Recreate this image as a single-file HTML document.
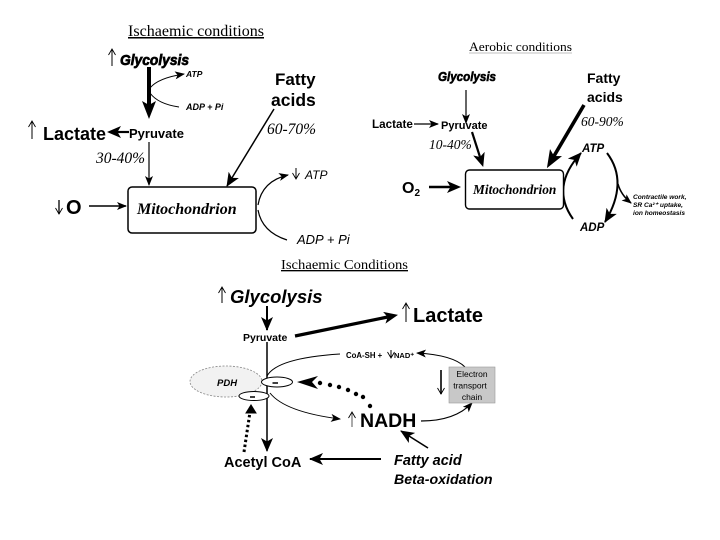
<!DOCTYPE html>
<html><head><meta charset="utf-8"><style>
html,body{margin:0;padding:0;background:#fff}
svg{display:block;filter:blur(.35px)}
text{fill:#000}
.s{font-family:"Liberation Sans",sans-serif}
.r{font-family:"Liberation Serif",serif}
.b{font-weight:bold}.i{font-style:italic}
</style></head><body>
<svg width="720" height="540" viewBox="0 0 720 540" xmlns="http://www.w3.org/2000/svg">
<defs>
<marker id="a" markerUnits="userSpaceOnUse" markerWidth="10" markerHeight="8" refX="9" refY="4" orient="auto"><path d="M0 0L10 4L0 8L2.5 4Z" fill="#000"/></marker>
<marker id="t" markerUnits="userSpaceOnUse" markerWidth="8" markerHeight="8" refX="7" refY="4" orient="auto"><path d="M1 .5L7 4L1 7.5" fill="none" stroke="#000" stroke-width=".9"/></marker>
<marker id="m" markerUnits="userSpaceOnUse" markerWidth="14" markerHeight="12" refX="13" refY="6" orient="auto"><path d="M0 0L14 6L0 12L3.5 6Z" fill="#000"/></marker>
<marker id="mN" markerUnits="userSpaceOnUse" markerWidth="14" markerHeight="12" refX="3.5" refY="6" orient="auto"><path d="M0 0L14 6L0 12L3.5 6Z" fill="#000"/></marker>
<marker id="lN" markerUnits="userSpaceOnUse" markerWidth="18" markerHeight="14" refX="4" refY="7" orient="auto"><path d="M0 0L18 7L0 14L4 7Z" fill="#000"/></marker>
</defs>
<g fill="none" stroke="#000">
<!-- panel 1 -->
<path d="M149 67V105" stroke-width="4" marker-end="url(#lN)"/>
<path d="M150 88Q158 78 184 74" stroke-width="1" marker-end="url(#a)"/>
<path d="M150 93Q158 104 179 107" stroke-width="1"/>
<path d="M129 132H117.5" stroke-width="2.2" marker-end="url(#mN)"/>
<path d="M149 142V185" stroke-width="1.2" marker-end="url(#a)"/>
<path d="M274 109L227 186" stroke-width="1.5" marker-end="url(#m)"/>
<path d="M89 206H126" stroke-width="1.4" marker-end="url(#a)"/>
<rect x="128" y="187" width="128" height="46" rx="4" stroke-width="1.5" fill="#fff"/>
<path d="M258 205Q262 181 288 175" stroke-width="1.2" marker-end="url(#a)"/>
<path d="M258 210Q262 232 287 240" stroke-width="1.2"/>
<path d="M112 66V49" stroke-width="1" marker-end="url(#t)"/>
<path d="M32 139V121" stroke-width="1" marker-end="url(#t)"/>
<path d="M296 168V179" stroke-width="1" marker-end="url(#t)"/>
<path d="M59 200V214" stroke-width="1.3" marker-end="url(#t)"/>
<!-- panel 2 -->
<path d="M466 90V123" stroke-width="1.2" marker-end="url(#a)"/>
<path d="M414 124H438" stroke-width="1.2" marker-end="url(#a)"/>
<path d="M472 132L480 157" stroke-width="2.2" marker-end="url(#mN)"/>
<path d="M584 105L554 156" stroke-width="3.6" marker-end="url(#lN)"/>
<path d="M429 187H450.5" stroke-width="2.6" marker-end="url(#mN)"/>
<path d="M573 219Q550 187 581 153" stroke-width="2" marker-end="url(#m)"/>
<rect x="465.5" y="170" width="98" height="39" rx="4" stroke-width="1.4" fill="#fff"/>
<path d="M607 153Q629 182 605 222" stroke-width="2" marker-end="url(#m)"/>
<path d="M618 184Q621 195 631 203" stroke-width="1.5" marker-end="url(#a)"/>
<!-- panel 3 -->
<path d="M267 306V330" stroke-width="2" marker-end="url(#m)"/>
<path d="M295 336L387.7 317" stroke-width="3.2" marker-end="url(#mN)"/>
<path d="M267 342V451" stroke-width="1.5" marker-end="url(#m)"/>
<path d="M267 376Q277 358 340 354" stroke-width="1"/>
<path d="M465 367Q453 355 417 353" stroke-width="1" marker-end="url(#a)"/>
<path d="M270 393Q285 412 340 419" stroke-width="1" marker-end="url(#a)"/>
<ellipse cx="226" cy="381.5" rx="36" ry="15.5" stroke="#888" stroke-width=".8" stroke-dasharray="2 1.5" fill="#f2f2f2"/>
<ellipse cx="277" cy="382" rx="15.5" ry="5" stroke-width="1" fill="#fff"/>
<ellipse cx="254" cy="396" rx="15" ry="4.5" stroke-width="1" fill="#fff"/>
<path d="M421 421Q455 421 472 403" stroke-width="1.2" marker-end="url(#a)"/>
<rect x="449" y="367" width="46" height="36" fill="#c8c8c8" stroke="#999" stroke-width=".6"/>
<path d="M441 370V394" stroke-width="1.6" marker-end="url(#t)"/>
<path d="M428 448L401 431" stroke-width="1.6" marker-end="url(#m)"/>
<path d="M381 459H310" stroke-width="2" marker-end="url(#m)"/>
<path d="M244 452L250 412" stroke-width="3" stroke-dasharray="2.5 2.5"/>
<path d="M246 413L251 405L256 413Z" fill="#000" stroke-width="1"/>
<path d="M222 303V287" stroke-width="1" marker-end="url(#t)"/>
<path d="M406 322V303" stroke-width="1" marker-end="url(#t)"/>
<path d="M352 427V412" stroke="#555" stroke-width="1" marker-end="url(#t)"/>
<path d="M391 350V358" stroke-width="1" marker-end="url(#t)"/>
</g>
<path d="M297 382L318 376L312 382L318 389Z" fill="#000"/>
<g fill="#000"><circle cx="320" cy="383" r="2.2"/><circle cx="330" cy="385" r="2.2"/><circle cx="339" cy="387" r="2.2"/><circle cx="348" cy="390" r="2.2"/><circle cx="356" cy="394" r="2.2"/><circle cx="363" cy="397" r="2.2"/><circle cx="370" cy="406" r="2.2"/></g>
<path d="M272.5 383H278M250 397H255" stroke="#000" stroke-width="1.6"/>

<!-- panel 1 text -->
<text class="r" x="128" y="36" font-size="15.3" textLength="136" lengthAdjust="spacingAndGlyphs" text-decoration="underline">Ischaemic conditions</text>
<text class="s b i" x="120" y="65" font-size="14.5" stroke="#000" stroke-width=".7" textLength="69" lengthAdjust="spacingAndGlyphs">Glycolysis</text>
<text class="s b i" x="186" y="77" font-size="8.5">ATP</text>
<text class="s b i" x="186" y="110" font-size="9">ADP + Pi</text>
<text class="s b" x="275" y="85" font-size="17">Fatty</text>
<text class="s b" x="271" y="106" font-size="17.5">acids</text>
<text class="r i" x="267" y="134" font-size="15.5">60-70%</text>
<text class="s b" x="43" y="140" font-size="18">Lactate</text>
<text class="s b" x="129" y="138" font-size="13">Pyruvate</text>
<text class="r i" x="96" y="163" font-size="15.5">30-40%</text>
<text class="s i" x="305" y="179" font-size="12">ATP</text>
<text class="s b" x="66" y="214" font-size="20">O</text>
<text class="r b i" x="137" y="214" font-size="16">Mitochondrion</text>
<text class="s i" x="297" y="244" font-size="13">ADP + Pi</text>

<!-- panel 2 text -->
<text class="r" x="469" y="51" font-size="12.5" textLength="103" lengthAdjust="spacingAndGlyphs">Aerobic conditions</text>
<path d="M469 53H572" stroke="#aaa" stroke-width=".8"/>
<text class="s b i" x="438" y="81" font-size="12.5" stroke="#000" stroke-width=".6" textLength="58" lengthAdjust="spacingAndGlyphs">Glycolysis</text>
<text class="s b" x="587" y="83" font-size="14">Fatty</text>
<text class="s b" x="587" y="102" font-size="14">acids</text>
<text class="s b" x="372" y="128" font-size="11.7">Lactate</text>
<text class="s b" x="441" y="129" font-size="11">Pyruvate</text>
<text class="r i" x="581" y="126" font-size="13.5">60-90%</text>
<text class="r i" x="429" y="149" font-size="13.5">10-40%</text>
<text class="s b i" x="582" y="152" font-size="11.5">ATP</text>
<text class="s b" x="402" y="193" font-size="16">O<tspan font-size="10" dy="3">2</tspan></text>
<text class="r b i" x="473" y="194" font-size="13.4">Mitochondrion</text>
<text class="s b i" x="633" y="199" font-size="6.6">Contractile work,</text>
<text class="s b i" x="633" y="207" font-size="6.6">SR Ca²⁺ uptake,</text>
<text class="s b i" x="633" y="215" font-size="6.6">ion homeostasis</text>
<text class="s b i" x="580" y="231" font-size="11.5">ADP</text>

<!-- panel 3 text -->
<text class="r" x="281" y="269" font-size="13.5" textLength="127" lengthAdjust="spacingAndGlyphs" text-decoration="underline">Ischaemic Conditions</text>
<text class="s b i" x="230" y="303" font-size="18.5">Glycolysis</text>
<text class="s b" x="413" y="322" font-size="20">Lactate</text>
<text class="s b" x="243" y="341" font-size="10.5">Pyruvate</text>
<text class="s b" x="346" y="358" font-size="7.8">CoA-SH +</text>
<text class="s b" x="394" y="358" font-size="7.5">NAD⁺</text>
<text class="s b i" x="217" y="386" font-size="9.5">PDH</text>
<g class="s" font-size="8.5" text-anchor="middle" style="fill:#333"><text x="472" y="377">Electron</text><text x="470" y="388.5">transport</text><text x="472" y="400">chain</text></g>
<text class="s b" x="360" y="427" font-size="19.5">NADH</text>
<text class="s b" x="224" y="467" font-size="14.5">Acetyl CoA</text>
<text class="s b i" x="394" y="465" font-size="14.5">Fatty acid</text>
<text class="s b i" x="394" y="484" font-size="14.2">Beta-oxidation</text>
</svg>
</body></html>
